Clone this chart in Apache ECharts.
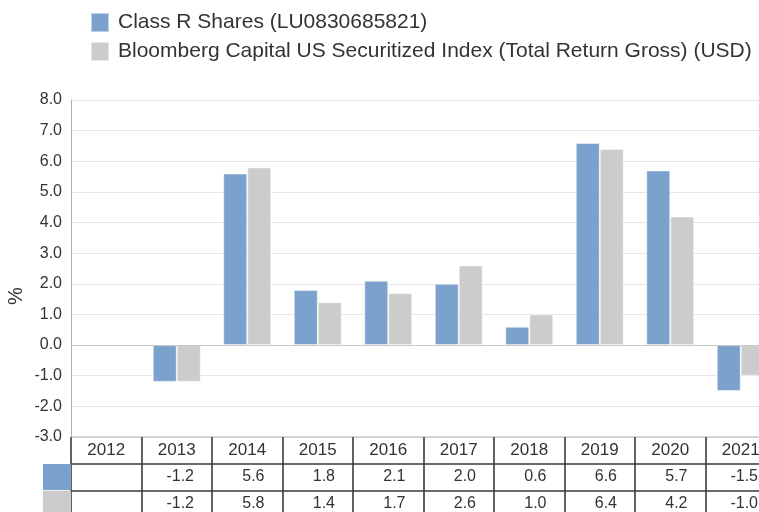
<!DOCTYPE html>
<html><head><meta charset="utf-8">
<script src="https://cdn.jsdelivr.net/npm/echarts@6/dist/echarts.min.js"></script>
<style>html,body{margin:0;padding:0;overflow:hidden;background:#fff;width:759px;height:512px}#c{width:800px;height:540px}</style>
</head><body><div id="c"></div>
<script>
const categories = ['2012','2013','2014','2015','2016','2017','2018','2019','2020','2021'];
const seriesNames = ['Class R Shares (LU0830685821)', 'Bloomberg Capital US Securitized Index (Total Return Gross) (USD)'];
const classR = [null, -1.2, 5.6, 1.8, 2.1, 2.0, 0.6, 6.6, 5.7, -1.5];
const bench = [null, -1.2, 5.8, 1.4, 1.7, 2.6, 1.0, 6.4, 4.2, -1.0];
const yTicks = [-3, 8, 1];
const colors = ['#7BA1CD', '#CCCCCC'];

const FONT = 'Liberation Sans, Arial, sans-serif';
const rows = [categories, classR, bench];
const cells = [];
for (let r = 0; r < 3; r++) for (let c = 0; c < categories.length; c++) cells.push([c, r]);

const chart = echarts.init(document.getElementById('c'), null, {renderer: 'canvas'});
chart.setOption({
  animation: false,
  textStyle: {fontFamily: FONT},
  color: colors,
  legend: {
    orient: 'vertical', left: 90, top: 12, itemWidth: 18, itemHeight: 19, itemGap: 8,
    icon: 'rect', data: seriesNames, padding: 0,
    textStyle: {fontSize: 21, color: '#333', fontFamily: FONT, padding: [0, 0, 0, 4]}
  },
  graphic: [{type: 'text', x: 16, y: 296, rotation: Math.PI / 2, style: {text: '%', fontSize: 20, fill: '#333', fontFamily: FONT, align: 'center', verticalAlign: 'middle'}}],
  grid: [
    {left: 71, top: 100, width: 705, height: 337},
    {left: 71, top: 437, width: 705, height: 80}
  ],
  xAxis: [
    {type: 'category', gridIndex: 0, data: categories, axisLabel: {show: false}, axisTick: {show: false},
     axisLine: {lineStyle: {color: '#C8C8C8'}}, z: 10},
    {type: 'category', gridIndex: 1, data: categories, axisLabel: {show: false}, axisTick: {show: false},
     axisLine: {show: false}, splitLine: {show: true, lineStyle: {color: '#3a3a3a', width: 1.6}}}
  ],
  yAxis: [
    {type: 'value', gridIndex: 0, min: yTicks[0], max: yTicks[1], interval: yTicks[2],
     axisLine: {show: true, lineStyle: {color: '#B0B0B0'}}, axisTick: {show: false},
     axisLabel: {fontSize: 16, color: '#333', margin: 9, formatter: v => v.toFixed(1)},
     splitLine: {lineStyle: {color: '#E6E6E6'}}},
    {type: 'category', gridIndex: 1, inverse: true, data: ['h', 'a', 'b'],
     axisLine: {show: false}, axisTick: {show: false},
     axisLabel: {margin: 0, formatter: v => v === 'h' ? '' : '{' + v + '|}',
       rich: {a: {backgroundColor: colors[0], width: 28, height: 26}, b: {backgroundColor: colors[1], width: 28, height: 26}}},
     splitLine: {show: true, lineStyle: {color: ['#C8C8C8', '#3a3a3a', '#3a3a3a', '#3a3a3a'], width: 1.6}}}
  ],
  series: [
    {name: seriesNames[0], type: 'bar', xAxisIndex: 0, yAxisIndex: 0, data: classR, barWidth: 24, barGap: '0%',
     itemStyle: {borderColor: 'rgba(255,255,255,0.5)', borderWidth: 1}},
    {name: seriesNames[1], type: 'bar', xAxisIndex: 0, yAxisIndex: 0, data: bench, barWidth: 24, barGap: '0%',
     itemStyle: {borderColor: 'rgba(255,255,255,0.5)', borderWidth: 1}},
    {type: 'custom', xAxisIndex: 1, yAxisIndex: 1, data: cells, silent: true,
     renderItem: function (params, api) {
       const c = api.value(0), r = api.value(1);
       const p = api.coord([c, r]);
       const s = api.size([1, 1]);
       const v = rows[r][c];
       if (v === null || v === undefined) return null;
       const isHeader = r === 0;
       return {
         type: 'text',
         x: isHeader ? p[0] : p[0] + s[0] / 2 - 18,
         y: p[1],
         style: {text: isHeader ? v : v.toFixed(1), fontSize: isHeader ? 17 : 16, fill: '#333', fontFamily: FONT,
           align: isHeader ? 'center' : 'right', verticalAlign: 'middle'}
       };
     }}
  ]
});
</script></body></html>
